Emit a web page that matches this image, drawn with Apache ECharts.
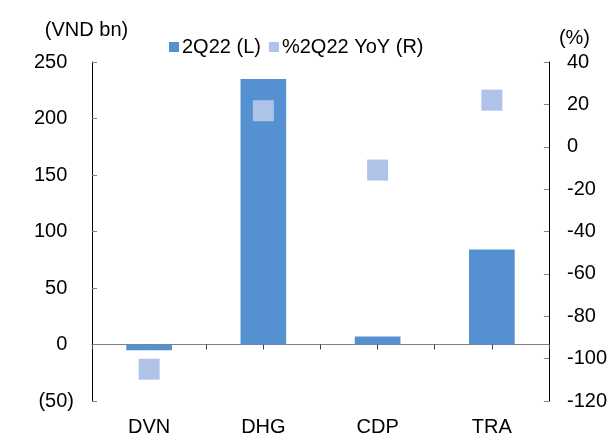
<!DOCTYPE html>
<html>
<head>
<meta charset="utf-8">
<script src="https://cdn.jsdelivr.net/npm/echarts@6/dist/echarts.min.js"></script>
<style>
html,body{margin:0;padding:0;background:#fff;}
#chart{width:610px;height:444px;}
</style>
</head>
<body>
<div id="chart"></div>
<script>
var categories = ['DVN', 'DHG', 'CDP', 'TRA'];
var q2Values = [-5, 235, 7, 84];
var yoyValues = [-105, 17, -11, 22];
var leftTicks = {min: -50, max: 250, interval: 50};
var rightTicks = {min: -120, max: 40, interval: 20};
var legendNames = ['2Q22 (L)', '%2Q22 YoY (R)'];

var FONT = 'Liberation Sans, Arial, sans-serif';
var barColor = '#5591D0';
var sqColor = '#AEC3E7';

var chart = echarts.init(document.getElementById('chart'));
chart.setOption({
  animation: false,
  textStyle: {fontFamily: FONT},
  grid: {left: 92, right: 61, top: 62, bottom: 43, containLabel: false},
  legend: {
    left: 164, top: 32,
    itemWidth: 10, itemHeight: 10, itemGap: 8,
    icon: 'rect',
    textStyle: {fontSize: 20, color: '#000', fontFamily: FONT, padding: [0, 0, 0, -2]},
    data: [
      {name: legendNames[0], itemStyle: {color: barColor}},
      {name: legendNames[1], itemStyle: {color: sqColor}}
    ]
  },
  xAxis: [
    {
      type: 'category', data: categories, position: 'bottom',
      axisLine: {show: false, onZero: false}, axisTick: {show: false},
      axisLabel: {fontSize: 20, color: '#000', margin: 16, fontFamily: FONT}
    },
    {
      type: 'category', data: categories,
      axisLine: {show: true, onZero: true, onZeroAxisIndex: 0, lineStyle: {color: '#808080', width: 1}},
      axisTick: {show: true, inside: true, length: 5, interval: 0, lineStyle: {color: '#404040'}},
      axisLabel: {show: false}
    },
    {
      type: 'category', data: categories,
      axisLine: {show: false, onZero: true, onZeroAxisIndex: 0},
      axisTick: {show: true, inside: true, length: 5, alignWithLabel: true, interval: 0, lineStyle: {color: '#404040'}},
      axisLabel: {show: false}
    }
  ],
  yAxis: [
    {
      type: 'value', position: 'left',
      min: leftTicks.min, max: leftTicks.max, interval: leftTicks.interval,
      name: '(VND bn)', nameLocation: 'end', nameGap: 22,
      nameTextStyle: {fontSize: 20, color: '#000', fontFamily: FONT, align: 'center', padding: [0, 11, 0, 0]},
      splitLine: {show: false},
      axisLine: {show: true, lineStyle: {color: '#000', width: 1}},
      axisTick: {show: true, inside: true, length: 5, lineStyle: {color: '#808080'}},
      axisLabel: {
        fontSize: 20, color: '#000', margin: 18, fontFamily: FONT,
        formatter: function (v) { return v < 0 ? '(' + (-v) + ')' : v + '{h|)}'; },
        rich: {h: {fontSize: 20, color: 'rgba(0,0,0,0)', fontFamily: FONT}}
      }
    },
    {
      type: 'value', position: 'right',
      min: rightTicks.min, max: rightTicks.max, interval: rightTicks.interval,
      name: '(%)', nameLocation: 'end', nameGap: 14,
      nameTextStyle: {fontSize: 20, color: '#000', fontFamily: FONT, align: 'center', padding: [0, 0, 0, 51]},
      splitLine: {show: false},
      axisLine: {show: true, lineStyle: {color: '#000', width: 1}},
      axisTick: {show: true, inside: true, length: 5, lineStyle: {color: '#808080'}},
      axisLabel: {fontSize: 20, color: '#000', margin: 18, fontFamily: FONT}
    }
  ],
  series: [
    {
      name: legendNames[0], type: 'bar', data: q2Values,
      xAxisIndex: 0, yAxisIndex: 0,
      barWidth: '40%',
      itemStyle: {color: barColor}
    },
    {
      name: legendNames[1], type: 'scatter', data: yoyValues,
      xAxisIndex: 0, yAxisIndex: 1,
      symbol: 'rect', symbolSize: 21,
      itemStyle: {color: sqColor, opacity: 1}
    }
  ]
});
</script>
</body>
</html>
